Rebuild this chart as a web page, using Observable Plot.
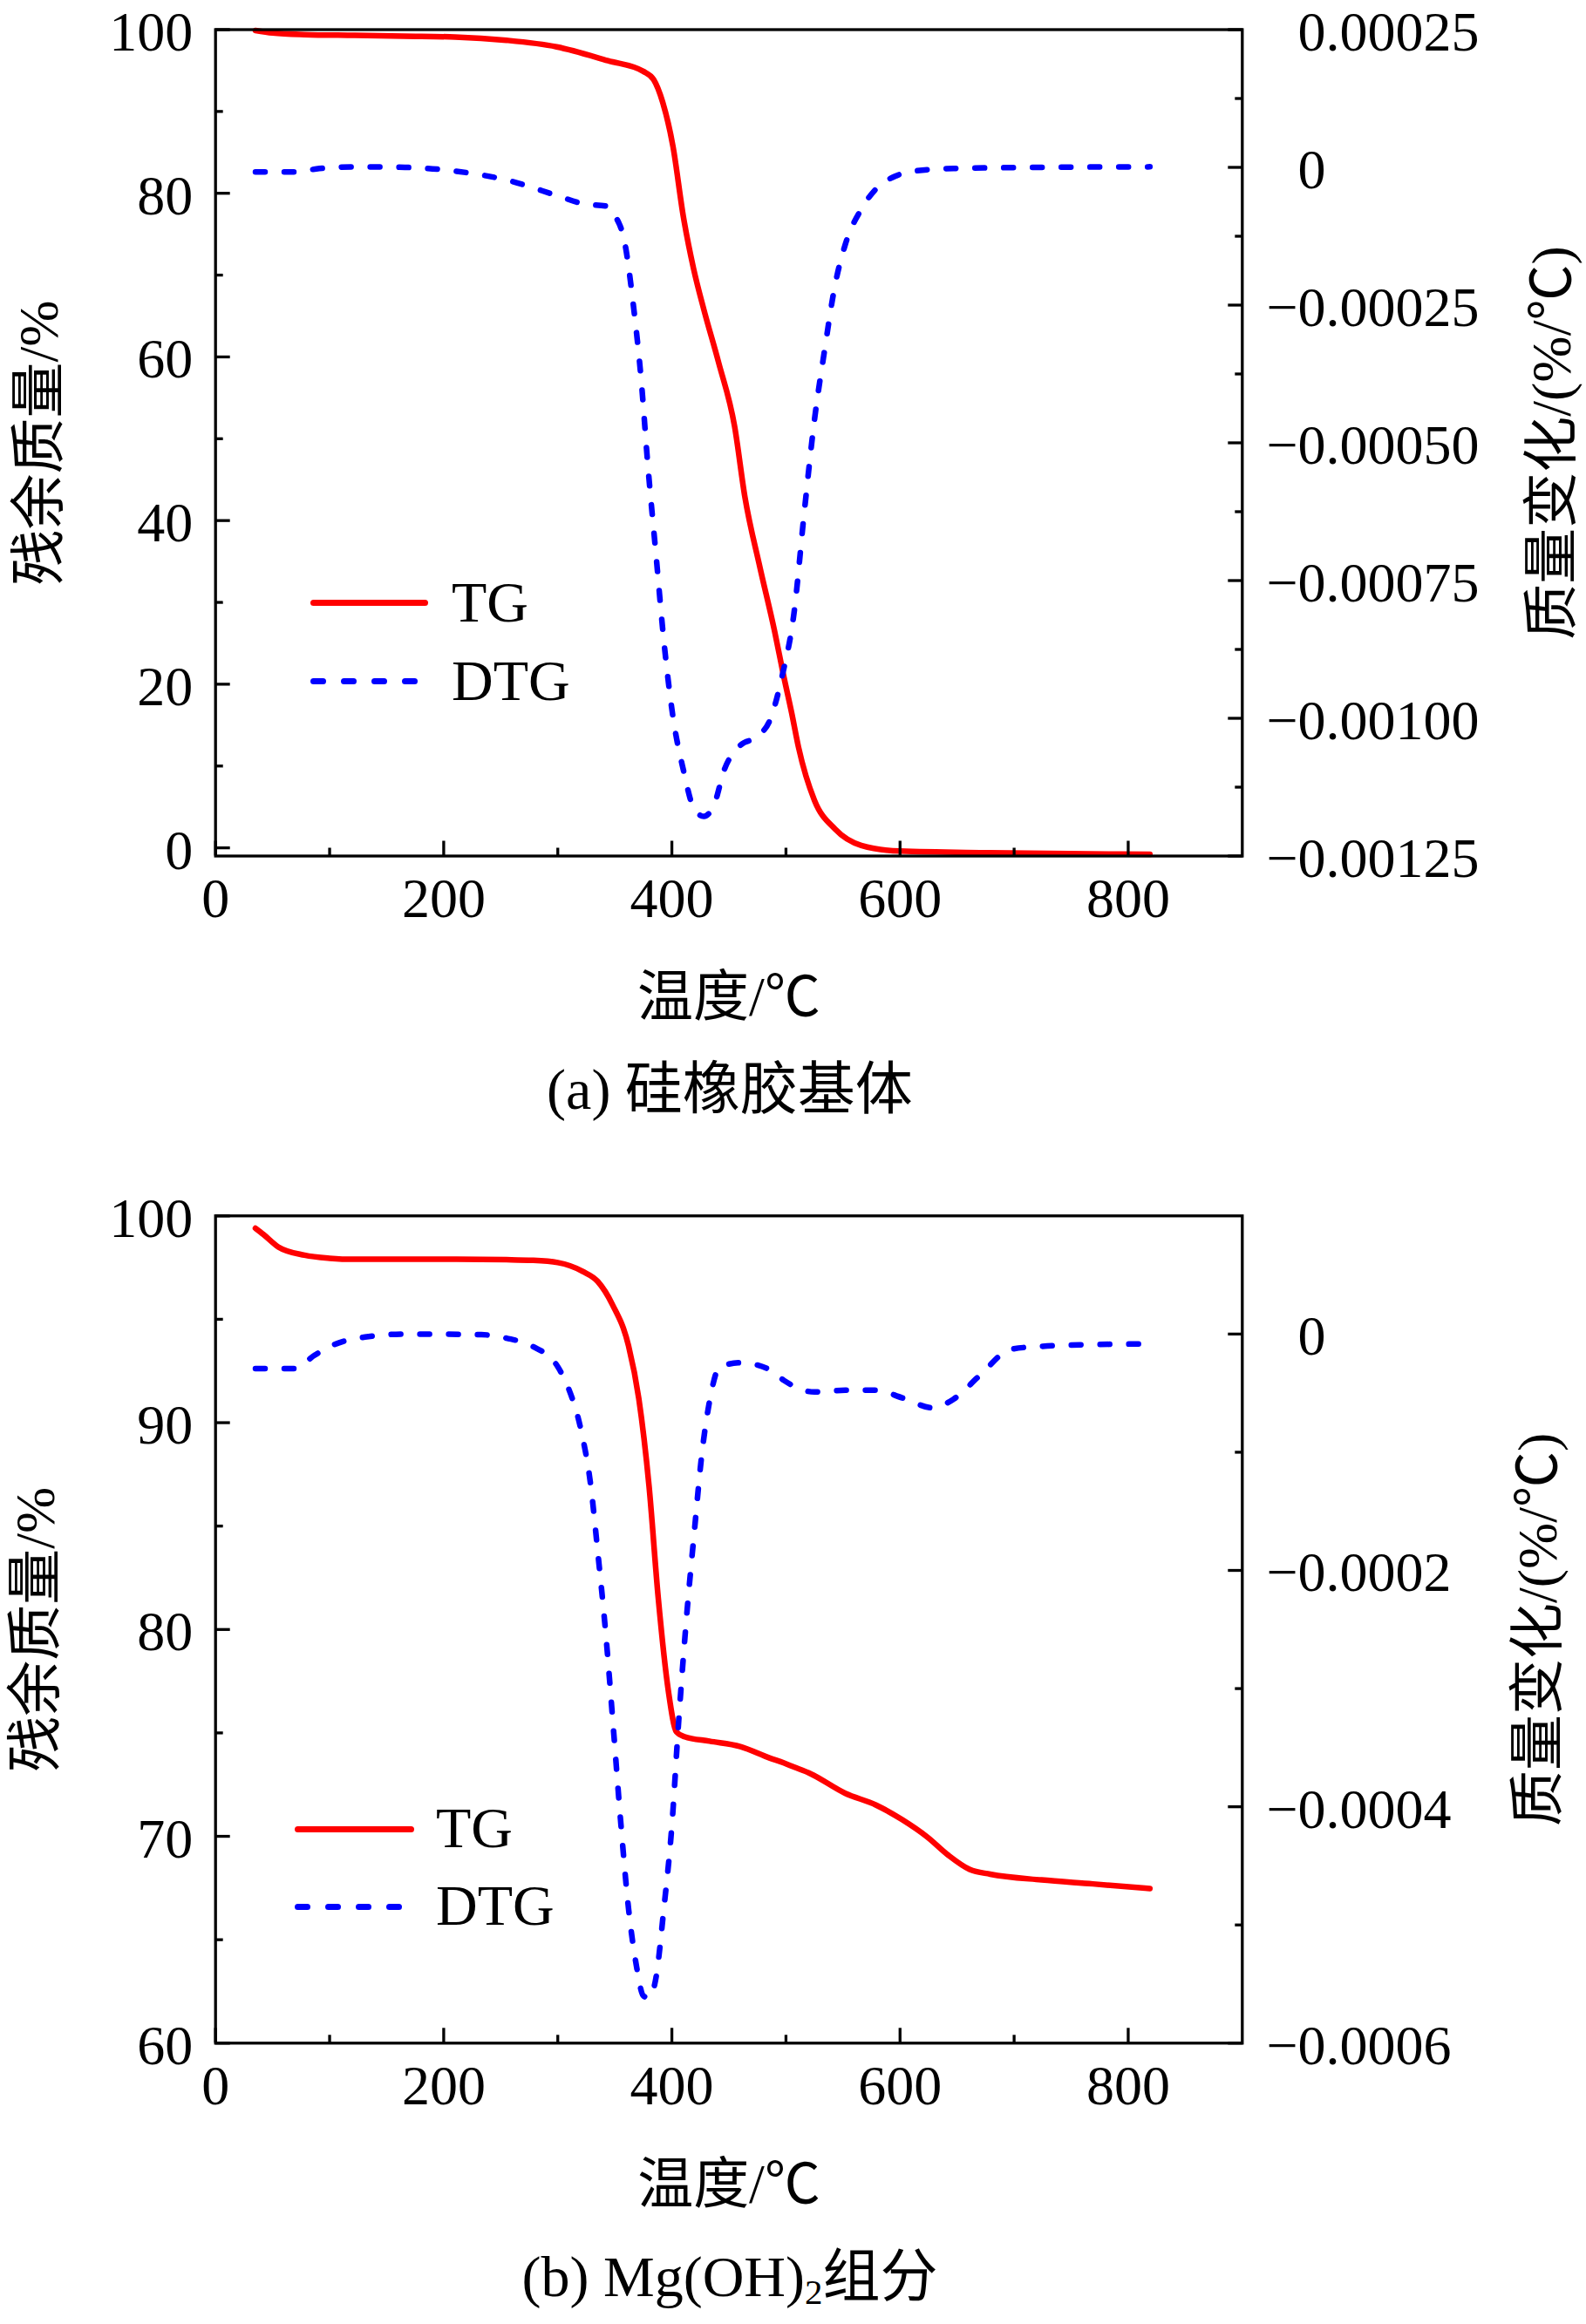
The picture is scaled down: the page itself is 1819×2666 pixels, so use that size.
<!DOCTYPE html>
<html>
<head>
<meta charset="utf-8">
<script src="https://cdn.jsdelivr.net/npm/d3@7"></script>
<script src="https://cdn.jsdelivr.net/npm/@observablehq/plot@0.6"></script>
<style>
html, body { margin: 0; padding: 0; background: #fff; }
#page { position: relative; width: 1819px; height: 2666px; background: #fff; color: #000;
  font-family: 'Liberation Serif', 'Noto Sans CJK SC', serif; overflow: hidden; }
.panel { position: absolute; left: 0; }
.lgtext { position: absolute; font-size: 66px; line-height: 66px; white-space: nowrap; }
.lgline { position: absolute; height: 7px; border-radius: 3.5px; }
.cap { position: absolute; left: 0; width: 1674px; text-align: center; font-size: 66px; line-height: 66px; white-space: nowrap; }
.cap sub { font-size: 0.62em; vertical-align: -0.22em; line-height: 0; }
</style>
</head>
<body>
<div id="page"></div>
<script>
// ---------- data: panel (a) 硅橡胶基体 ----------
const tgA_T = [35, 50, 78, 122, 165, 210, 255, 299, 344, 375, 384, 392, 401, 410, 419, 428, 441, 455, 464, 477, 490, 498, 505, 511, 525, 543, 566, 600, 679, 819];
const tgA   = [99.9, 99.6, 99.4, 99.3, 99.2, 99.1, 98.7, 97.9, 96.2, 94.9, 93.9, 91.1, 85.7, 77.2, 70.8, 65.8, 59.3, 51.5, 42.9, 34.4, 26.5, 21.0, 16.5, 12.3, 5.8, 2.3, 0.3, -0.4, -0.6, -0.8];
const dtgA_T = [35, 69, 91, 122, 166, 211, 255, 299, 322, 344, 350, 359, 366, 373, 379, 386, 393, 401, 410, 419, 428, 437, 446, 459, 477, 486, 497, 507, 516, 525, 534, 543, 552, 566, 579, 597, 615, 647, 724, 819];
const dtgA   = [-8.5e-6, -8.5e-6, -2e-6, 1e-6, 0, -7e-6, -2.3e-5, -5.1e-5, -6.6e-5, -7.1e-5, -8.7e-5, -1.4e-4, -2.46e-4, -3.83e-4, -5.42e-4, -7.01e-4, -8.6e-4, -9.98e-4, -1.093e-3, -1.162e-3, -1.178e-3, -1.157e-3, -1.093e-3, -1.051e-3, -1.03e-3, -1.003e-3, -9.2e-4, -8.1e-4, -6.27e-4, -4.58e-4, -3.3e-4, -2.14e-4, -1.4e-4, -7.6e-5, -3.9e-5, -1.5e-5, -6e-6, -2e-6, 0, 1e-6];

// ---------- data: panel (b) Mg(OH)2组分 ----------
const tgB_T = [35, 42, 55, 78, 100, 122, 166, 211, 255, 278, 300, 322, 335, 348, 362, 371, 380, 388, 397, 404, 411, 433, 460, 486, 498, 507, 520, 552, 579, 602, 624, 642, 661, 679, 724, 769, 819];
const tgB   = [99.4, 99.1, 98.5, 98.1, 97.95, 97.9, 97.9, 97.9, 97.88, 97.85, 97.74, 97.31, 96.83, 95.7, 93.72, 91.17, 86.93, 81.56, 77.0, 75.05, 74.82, 74.6, 74.34, 73.78, 73.55, 73.35, 73.07, 72.08, 71.51, 70.8, 69.96, 69.1, 68.4, 68.17, 67.89, 67.7, 67.47];
const dtgB_T = [35, 69, 87, 104, 131, 166, 233, 255, 278, 300, 309, 320, 329, 335, 342, 349, 355, 362, 369, 375, 380, 386, 393, 400, 406, 413, 420, 426, 433, 442, 460, 486, 498, 525, 552, 579, 602, 629, 647, 670, 697, 724, 769, 810];
const dtgB   = [-2.92e-5, -2.92e-5, -1.78e-5, -8.9e-6, -2.5e-6, 0, -5e-7, -3.5e-6, -1.04e-5, -2.77e-5, -4.5e-5, -7.97e-5, -1.29e-4, -1.84e-4, -2.53e-4, -3.37e-4, -4.11e-4, -4.86e-4, -5.35e-4, -5.6e-4, -5.62e-4, -5.45e-4, -4.86e-4, -4.16e-4, -3.27e-4, -2.38e-4, -1.64e-4, -1.04e-4, -5.7e-5, -2.77e-5, -2.43e-5, -3.02e-5, -3.91e-5, -4.9e-5, -4.75e-5, -4.75e-5, -5.4e-5, -6.24e-5, -5.5e-5, -3.5e-5, -1.29e-5, -1.04e-5, -8.9e-6, -8.4e-6];

// ---------- axes / ticks ----------
const xDomain = [0, 900];
const xMajor = [0, 200, 400, 600, 800];
const xMinor = [100, 300, 500, 700];

const yDomainA = [-1, 100];
const rDomainA = [-0.00125, 0.00025];
const leftMajorA = [0, 20, 40, 60, 80, 100];
const leftMinorA = [10, 30, 50, 70, 90];
const rightMajorA = [0.00025, 0, -0.00025, -0.0005, -0.00075, -0.001, -0.00125];
const rightLabelsA = ["0.00025", "0", "−0.00025", "−0.00050", "−0.00075", "−0.00100", "−0.00125"];
const rightMinorA = [0.000125, -0.000125, -0.000375, -0.000625, -0.000875, -0.001125];

const yDomainB = [60, 100];
const rDomainB = [-0.0006, 0.0001];
const leftMajorB = [60, 70, 80, 90, 100];
const leftMinorB = [65, 75, 85, 95];
const rightMajorB = [0, -0.0002, -0.0004, -0.0006];
const rightLabelsB = ["0", "−0.0002", "−0.0004", "−0.0006"];
const rightMinorB = [-0.0001, -0.0003, -0.0005];

const xTitle = "温度/℃";
const leftTitle = "残余质量/%";
const rightTitle = "质量变化/(%/℃)";
const seriesNames = ["TG", "DTG"];
const captions = ["(a) 硅橡胶基体", "(b) Mg(OH)<sub>2</sub>组分"];

const FONT = "'Liberation Serif', 'Noto Sans CJK SC', serif";
const RED = "#ff0000", BLUE = "#0000ff";
const W = 1819, FL = 246.7, FR = 1424.3;

function panel(o) {
  const toY = d3.scaleLinear().domain(o.rDomain).range(o.yDomain);
  const tgData = o.tgT.map((t, i) => ({t, v: o.tg[i]}));
  const dtgData = o.dtgT.map((t, i) => ({t, v: toY(o.dtg[i])}));
  const rt = o.rightMajor.map((v, i) => ({y: toY(v), label: o.rightLabels[i]}));
  const marginBottom = 220;
  const sw = 3.3;
  return Plot.plot({
    width: W,
    height: o.marginTop + o.plotH + marginBottom,
    marginTop: o.marginTop,
    marginBottom,
    marginLeft: FL,
    marginRight: W - FR,
    x: {domain: xDomain, axis: null},
    y: {domain: o.yDomain, axis: null},
    style: {fontFamily: FONT, fontSize: "64px", background: "transparent", color: "#000", overflow: "visible"},
    marks: [
      Plot.line(tgData, {x: "t", y: "v", stroke: RED, strokeWidth: 6.5, curve: "monotone-x", strokeLinecap: "round", strokeLinejoin: "round"}),
      Plot.line(dtgData, {x: "t", y: "v", stroke: BLUE, strokeWidth: 6.5, strokeDasharray: "11,22", curve: "monotone-x", strokeLinecap: "round", strokeLinejoin: "round"}),
      Plot.frame({stroke: "#000", strokeWidth: sw}),
      // x axis: inward ticks + labels
      Plot.axisX(xMajor, {anchor: "bottom", tickSize: -17, tickPadding: 42, strokeWidth: sw, fontSize: 64, label: null}),
      Plot.axisX(xMinor, {anchor: "bottom", tickSize: -9, strokeWidth: sw, fill: "none", label: null}),
      // left axis: inward ticks, labels separately
      Plot.axisY(o.leftMajor, {anchor: "left", tickSize: -17, strokeWidth: sw, fill: "none", label: null}),
      Plot.axisY(o.leftMinor, {anchor: "left", tickSize: -9, strokeWidth: sw, fill: "none", label: null}),
      Plot.axisY(o.leftMajor, {anchor: "left", tickSize: 0, tickPadding: 26, dy: 3.5, fontSize: 64, label: null}),
      // right axis (DTG) mapped onto the TG scale
      Plot.axisY(o.rightMajor.map(toY), {anchor: "right", tickSize: -17, strokeWidth: sw, fill: "none", label: null}),
      Plot.axisY(o.rightMinor.map(toY), {anchor: "right", tickSize: -9, strokeWidth: sw, fill: "none", label: null}),
      Plot.text(rt, {y: "y", text: d => d.label.replace("−", ""), frameAnchor: "right", textAnchor: "start", lineAnchor: "middle", dx: 63.7, dy: 3.5, fontSize: 64}),
      Plot.text(rt.filter(d => d.label.startsWith("−")), {y: "y", text: () => "−", frameAnchor: "right", textAnchor: "end", lineAnchor: "middle", dx: 63.7, dy: 3.5, fontSize: 64}),
      // titles
      Plot.text([xTitle], {frameAnchor: "bottom", textAnchor: "middle", lineAnchor: "middle", dy: 162.3, fontSize: 64}),
      Plot.text([leftTitle], {frameAnchor: "left", textAnchor: "middle", lineAnchor: "middle", dx: o.leftTitleDx, rotate: -90, fontSize: 64}),
      Plot.text([rightTitle], {frameAnchor: "right", textAnchor: "middle", lineAnchor: "middle", dx: o.rightTitleDx, rotate: -90, fontSize: 64})
    ]
  });
}

const page = document.getElementById("page");

function place(el, top) {
  const wrap = document.createElement("div");
  wrap.className = "panel";
  wrap.style.top = top + "px";
  wrap.appendChild(el);
  page.appendChild(wrap);
}

place(panel({
  tgT: tgA_T, tg: tgA, dtgT: dtgA_T, dtg: dtgA,
  yDomain: yDomainA, rDomain: rDomainA,
  leftMajor: leftMajorA, leftMinor: leftMinorA,
  rightMajor: rightMajorA, rightLabels: rightLabelsA, rightMinor: rightMinorA,
  marginTop: 33.5, plotH: 948, leftTitleDx: 44.8 - FL, rightTitleDx: 1779.8 - FR
}), 0);

place(panel({
  tgT: tgB_T, tg: tgB, dtgT: dtgB_T, dtg: dtgB,
  yDomain: yDomainB, rDomain: rDomainB,
  leftMajor: leftMajorB, leftMinor: leftMinorB,
  rightMajor: rightMajorB, rightLabels: rightLabelsB, rightMinor: rightMinorB,
  marginTop: 34.3, plotH: 949, leftTitleDx: 40.8 - FL, rightTitleDx: 1763.8 - FR
}), 1360);

// ---------- legends (inside plot areas) ----------
function legend(x0, x1, yTG, yDTG, textX) {
  const solid = document.createElement("div");
  solid.className = "lgline";
  solid.style.cssText += `left:${x0}px;width:${x1 - x0}px;top:${yTG - 3.5}px;background:${RED};`;
  page.appendChild(solid);
  for (let k = 0; k < 4; k++) {
    const d = document.createElement("div");
    d.className = "lgline";
    d.style.cssText += `left:${x0 + 35 * k}px;width:17.5px;top:${yDTG - 3.5}px;background:${BLUE};`;
    page.appendChild(d);
  }
  [yTG, yDTG].forEach((y, i) => {
    const t = document.createElement("div");
    t.className = "lgtext";
    t.style.left = textX + "px";
    t.style.top = (y - 33.7) + "px";
    t.textContent = seriesNames[i];
    page.appendChild(t);
  });
}
legend(356, 491, 691.7, 781.7, 518);
legend(338, 475, 2098, 2187, 500);

// ---------- captions ----------
[[captions[0], 1216.7], [captions[1], 2578.5]].forEach(([html, top]) => {
  const c = document.createElement("div");
  c.className = "cap";
  c.style.top = top + "px";
  c.innerHTML = html;
  page.appendChild(c);
});
</script>
</body>
</html>
